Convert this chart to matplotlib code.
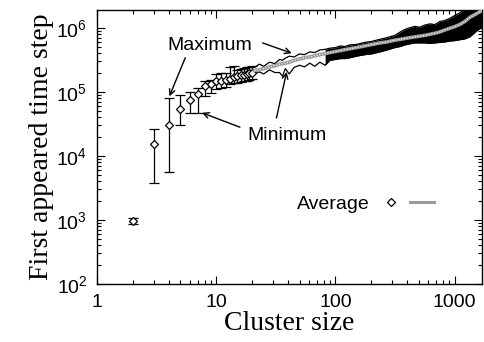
import matplotlib
matplotlib.use("Agg")
from matplotlib import pyplot as plt
from matplotlib.lines import Line2D
from matplotlib.legend_handler import HandlerTuple
from matplotlib.ticker import LogLocator, LogFormatterSciNotation, NullFormatter
import numpy as np

plt.rcParams['font.family'] = ['Liberation Sans', 'DejaVu Sans']
plt.rcParams['mathtext.fontset'] = 'custom'
plt.rcParams['mathtext.rm'] = 'Liberation Sans'

# small clusters: average with min/max error bars
sizes = [2, 3, 4, 5, 6, 7, 8, 9, 10, 11, 12, 13, 14, 15, 16, 17, 18, 19, 20]
avg_pts = [950, 1.55e4, 3.0e4, 5.3e4, 7.4e4, 9.3e4, 1.22e5, 1.32e5, 1.45e5, 1.5e5,
           1.55e5, 1.6e5, 1.68e5, 1.75e5, 1.8e5, 1.85e5, 1.9e5, 1.95e5, 2.0e5]
min_pts = [850, 3.8e3, 5.5e3, 3.0e4, 4.6e4, 4.6e4, 8.5e4, 9.5e4, 1.1e5, 1.15e5,
           1.2e5, 1.3e5, 1.35e5, 1.35e5, 1.4e5, 1.45e5, 1.5e5, 1.55e5, 1.6e5]
max_pts = [1050, 2.6e4, 8.0e4, 8.8e4, 1.0e5, 1.15e5, 1.45e5, 1.55e5, 1.9e5, 1.95e5,
           2.0e5, 2.4e5, 2.5e5, 2.2e5, 2.3e5, 2.35e5, 2.4e5, 2.45e5, 2.5e5]

# large clusters: lines
band_x = [21, 23, 25, 28, 31, 34, 36, 38, 41, 45, 50, 55, 61, 67, 74, 82, 90, 100,
          110, 120, 132, 150, 176, 200, 236, 270, 315, 350, 382, 420, 463, 510,
          561, 620, 681, 750, 826, 910, 1000, 1100, 1216, 1340, 1474, 1600, 1700]
band_max = [2.4e5, 2.7e5, 2.5e5, 2.9e5, 2.75e5, 3.2e5, 3.1e5, 3.35e5, 3.6e5, 3.5e5,
            3.9e5, 3.8e5, 4.2e5, 4.1e5, 4.5e5, 4.6e5, 4.8e5, 4.9e5, 5.2e5, 5.1e5,
            5.4e5, 5.5e5, 5.9e5, 6.1e5, 6.6e5, 7.0e5, 7.6e5, 8.6e5, 9.4e5, 1.0e6,
            1.05e6, 1.02e6, 1.1e6, 1.15e6, 1.12e6, 1.25e6, 1.3e6, 1.4e6, 1.55e6, 1.7e6,
            1.95e6, 2.1e6, 2.3e6, 2.4e6, 2.5e6]
band_avg = [2.15e5, 2.2e5, 2.3e5, 2.45e5, 2.55e5, 2.7e5, 2.75e5, 2.8e5, 2.9e5, 3.1e5,
            3.25e5, 3.4e5, 3.5e5, 3.65e5, 3.8e5, 3.95e5, 4.1e5, 4.25e5, 4.4e5, 4.55e5,
            4.7e5, 4.9e5, 5.2e5, 5.45e5, 5.8e5, 6.0e5, 6.4e5, 6.6e5, 6.8e5, 7.0e5,
            7.2e5, 7.4e5, 7.6e5, 7.9e5, 8.2e5, 8.6e5, 9.2e5, 9.8e5, 1.04e6, 1.12e6,
            1.25e6, 1.45e6, 1.6e6, 1.75e6, 1.85e6]
band_min = [1.9e5, 2.05e5, 1.9e5, 2.2e5, 2.0e5, 2.0e5, 1.75e5, 2.3e5, 1.9e5, 2.4e5,
            2.6e5, 2.45e5, 2.8e5, 2.5e5, 2.9e5, 2.6e5, 3.1e5, 3.2e5, 3.3e5, 3.3e5,
            3.4e5, 3.6e5, 3.8e5, 3.9e5, 4.2e5, 4.5e5, 4.9e5, 5.1e5, 5.4e5, 5.6e5,
            5.8e5, 5.8e5, 5.8e5, 5.7e5, 5.8e5, 5.9e5, 6.0e5, 6.2e5, 6.3e5, 6.5e5,
            6.7e5, 7.2e5, 8.4e5, 9.5e5, 1.0e6]

fig, ax = plt.subplots(figsize=(4.85, 3.42), dpi=100)
fig.subplots_adjust(left=0.2, right=0.994, bottom=0.17, top=0.971)

yerr = [np.array(avg_pts) - np.array(min_pts), np.array(max_pts) - np.array(avg_pts)]
ax.errorbar(sizes, avg_pts, yerr=yerr, fmt='D', ms=4.5, mfc='white', mec='black',
            mew=0.9, ecolor='black', elinewidth=0.9, capsize=3.5, capthick=0.9, zorder=3)

bx = np.array(band_x)
ax.fill_between(bx, band_min, band_max, where=bx >= 80, color='black', lw=0, zorder=2)
ax.plot(band_x, band_max, color='black', lw=0.9, zorder=2)
ax.plot(band_x, band_min, color='black', lw=0.9, zorder=2)
ax.plot(band_x, band_avg, color='#9a9a9a', lw=2.6, zorder=4)
ax.plot(band_x, band_avg, color='white', lw=0.8, ls=(0, (1, 1.5)), zorder=5)

ax.set_xscale('log')
ax.set_yscale('log')
ax.set_xlim(1, 1700)
ax.set_ylim(100, 1.9e6)

ax.yaxis.set_major_locator(LogLocator(base=10, numticks=10))
ax.yaxis.set_major_formatter(LogFormatterSciNotation())
ax.yaxis.set_minor_locator(LogLocator(base=10, subs=np.arange(2, 10), numticks=10))
ax.yaxis.set_minor_formatter(NullFormatter())
ax.set_xticks([1, 10, 100, 1000])
ax.set_xticklabels(['1', '10', '100', '1000'])
ax.xaxis.set_minor_locator(LogLocator(base=10, subs=np.arange(2, 10), numticks=10))
ax.xaxis.set_minor_formatter(NullFormatter())

ax.tick_params(which='both', direction='in', top=True, right=True, labelsize=14, width=0.8)
ax.tick_params(which='major', length=6)
ax.tick_params(which='minor', length=3)
ax.tick_params(axis='x', pad=7)
ax.tick_params(axis='y', pad=7)
for s in ax.spines.values():
    s.set_linewidth(1.0)

ax.set_xlabel('Cluster size', fontsize=20, fontfamily='Liberation Serif', labelpad=0)
ax.set_ylabel('First appeared time step', fontsize=20, fontfamily='Liberation Serif', labelpad=2)

arrow = dict(arrowstyle='->', color='black', lw=1.0, shrinkA=0, shrinkB=0)
ax.text(3.9, 5.3e5, 'Maximum', fontsize=14, va='center', ha='left')
ax.annotate('', xy=(4.05, 8.5e4), xytext=(5.5, 3.4e5), arrowprops=arrow)
ax.annotate('', xy=(43, 4.0e5), xytext=(24.5, 5.8e5), arrowprops=arrow)
ax.text(18.4, 2.05e4, 'Minimum', fontsize=14, va='center', ha='left')
ax.annotate('', xy=(7.6, 4.7e4), xytext=(15.8, 2.8e4), arrowprops=arrow)
ax.annotate('', xy=(39, 2.05e5), xytext=(32, 3.9e4), arrowprops=arrow)

h_pt = Line2D([], [], ls='none', marker='D', ms=4.5, mfc='white', mec='black', mew=0.9)
h_ln = Line2D([], [], color='#9a9a9a', lw=2.2)
ax.legend([(h_pt, h_ln)], ['Average'], handler_map={tuple: HandlerTuple(ndivide=None, pad=0.4)},
          loc='center right', bbox_to_anchor=(0.92, 0.29), frameon=False, fontsize=14,
          markerfirst=False, handlelength=2.8, handletextpad=0.5)

fig.savefig('out.png', dpi=100)
